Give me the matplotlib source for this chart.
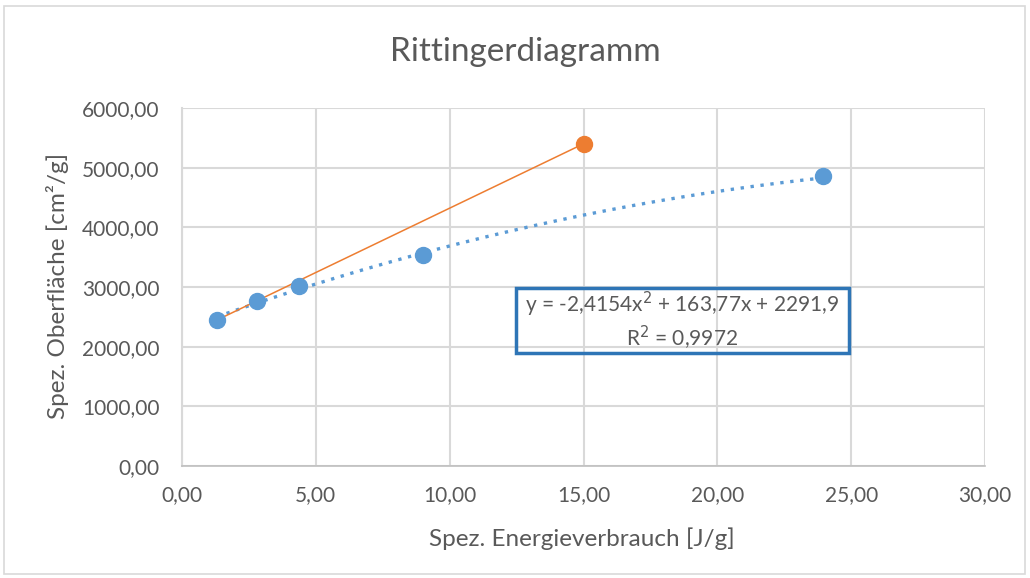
import matplotlib.pyplot as plt
import numpy as np
from matplotlib.patches import Rectangle
from matplotlib.ticker import FuncFormatter

plt.rcParams['font.family'] = ['Lato', 'DejaVu Sans']

# measured data
energy = [1.31, 2.80, 4.37, 9.00, 23.94]
surface = [2447, 2765, 3017, 3536, 4860]

# straight reference line (orange)
ref_x = [1.31, 15.0]
ref_y = [2447, 5400]

# polynomial trendline coefficients (as shown in the label)
trend_coef = [-2.4154, 163.77, 2291.9]
trend_label = 'y = -2,4154x$^2$ + 163,77x + 2291,9\nR$^2$ = 0,9972'

x_ticks = np.arange(0, 31, 5)
y_ticks = np.arange(0, 6001, 1000)

text_col = '#595959'
grid_col = '#D9D9D9'
blue = '#5B9BD5'
orange = '#ED7D31'

W, H = 1030, 578
fig = plt.figure(figsize=(W / 100, H / 100), dpi=100)
ax = fig.add_axes([182 / W, 1 - 466 / H, (985 - 182) / W, (466 - 108) / H])

# outer chart border
fig.patches.append(Rectangle((4 / W, 4 / H), 1021 / W, 568 / H,
                             transform=fig.transFigure, fill=False,
                             edgecolor='#D9D9D9', linewidth=1.2))

xs = np.linspace(energy[0], energy[-1], 200)
ax.plot(xs, np.polyval(trend_coef, xs), color=blue, linestyle=(0, (1, 2.0)),
        linewidth=2.4, zorder=3)
ax.plot(ref_x, ref_y, color=orange, linewidth=1.1, marker='o', markersize=11.5,
        markevery=[1], zorder=3)
ax.plot(energy, surface, linestyle='none', marker='o', color=blue,
        markersize=11.5, zorder=4)

ax.set_xlim(0, 30)
ax.set_ylim(0, 6000)
ax.set_xticks(x_ticks)
ax.set_yticks(y_ticks)
fmt = FuncFormatter(lambda v, p: f"{v:.2f}".replace('.', ','))
ax.xaxis.set_major_formatter(fmt)
ax.yaxis.set_major_formatter(fmt)

ax.grid(True, color=grid_col, linewidth=1.5)
ax.set_axisbelow(True)
for side in ['top', 'right']:
    ax.spines[side].set_visible(False)
ax.spines['left'].set_color(grid_col)
ax.spines['left'].set_linewidth(1.5)
ax.spines['bottom'].set_color('#BFBFBF')
ax.spines['bottom'].set_linewidth(1.2)
ax.tick_params(length=0, colors=text_col, labelsize=15)
ax.tick_params(axis='y', pad=16)
ax.tick_params(axis='x', pad=14)

fig.text(582 / W, 1 - 539 / H, 'Spez. Energieverbrauch [J/g]', ha='center', va='center',
         color=text_col, fontsize=17.5)
fig.text(58 / W, 1 - 286 / H, 'Spez. Oberfläche [cm²/g]', ha='center', va='center',
         rotation=90, color=text_col, fontsize=17.5)
fig.text(525 / W, 1 - 52 / H, 'Rittingerdiagramm', ha='center', va='center',
         color=text_col, fontsize=24)

# trendline label box
fig.patches.append(Rectangle((516 / W, 1 - 353 / H), 333 / W, 65 / H,
                             transform=fig.transFigure, fill=False,
                             edgecolor='#2E75B6', linewidth=2.5, zorder=5))
fig.text(682 / W, 1 - 321 / H, trend_label, ha='center', va='center',
         color=text_col, fontsize=15, linespacing=1.2)

fig.savefig('out.png', dpi=100)
